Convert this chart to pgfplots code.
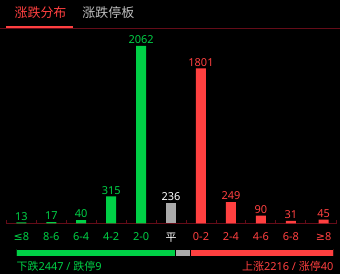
\documentclass[border=0pt]{standalone}
\usepackage{pgfplots}
\pgfplotsset{compat=1.18}
\usepackage{fontspec}
\setmainfont{Noto Sans}
\newfontfamily\cjk{Noto Sans CJK SC}
\newfontfamily\symfont{DejaVu Sans}
\definecolor{upred}{RGB}{255,64,64}
\definecolor{downgreen}{RGB}{0,208,70}
\definecolor{flatgrey}{RGB}{170,170,170}
\definecolor{rulered}{RGB}{100,12,24}
\definecolor{tabgrey}{RGB}{190,190,190}

\begin{document}
\begin{tikzpicture}
\fill[black] (0pt,0pt) rectangle (340pt,275pt);

% tab header
\node[anchor=base west, inner sep=0, text=upred, font=\cjk\fontsize{13}{13}\selectfont] at (14pt,257pt) {涨跌分布};
\node[anchor=base west, inner sep=0, text=tabgrey, font=\cjk\fontsize{13}{13}\selectfont] at (82pt,257pt) {涨跌停板};
\fill[upred] (6pt,247.3pt) rectangle (73pt,249.3pt);
\draw[rulered, line width=0.8pt] (0pt,246.5pt) -- (340pt,246.5pt);

% distribution of price changes
\begin{axis}[
  at={(6pt,51pt)}, anchor=south west,
  scale only axis, width=331pt, height=194pt,
  xmin=-0.5, xmax=10.53, ymin=0, ymax=2247,
  axis x line=bottom, axis y line=none,
  x axis line style={rulered, -, line width=0.8pt},
  xtick={0,1,2,3,4,5,6,7,8,9,10.1},
  xticklabels={
    \textcolor{downgreen}{{\symfont ≤}8},
    \textcolor{downgreen}{8-6},
    \textcolor{downgreen}{6-4},
    \textcolor{downgreen}{4-2},
    \textcolor{downgreen}{2-0},
    \textcolor{white}{\cjk 平},
    \textcolor{upred}{0-2},
    \textcolor{upred}{2-4},
    \textcolor{upred}{4-6},
    \textcolor{upred}{6-8},
    \textcolor{upred}{{\symfont ≥}8}},
  major tick length=0pt,
  minor xtick={-0.5,0.5,1.5,2.5,3.5,4.5,5.5,6.5,7.5,8.5,9.5,10.53},
  minor tick length=3pt, tick align=inside,
  minor tick style={rulered, line width=0.8pt},
  xticklabel style={font=\fontsize{11}{11}\selectfont, anchor=north, yshift=-6pt},
  ytick=\empty,
  clip=false,
  /pgf/number format/.cd, 1000 sep={}, assume math mode=true, /pgfplots/.cd,
  every node near coord/.append style={font=\fontsize{11}{11}\selectfont, inner sep=2pt},
]
\addplot[ybar, bar width=10pt, bar shift=0pt, fill=downgreen, draw=none,
  nodes near coords, every node near coord/.append style={text=downgreen}]
  coordinates {(0,13) (1,17) (2,40) (3,315) (4,2062)};
\addplot[ybar, bar width=10pt, bar shift=0pt, fill=flatgrey, draw=none,
  nodes near coords, every node near coord/.append style={text=white}]
  coordinates {(5,236)};
\addplot[ybar, bar width=10pt, bar shift=0pt, fill=upred, draw=none,
  nodes near coords, every node near coord/.append style={text=upred}]
  coordinates {(6,1801) (7,249) (8,90) (9,31) (10.1,45)};
\end{axis}

% advance / flat / decline proportion bar
\begin{axis}[
  at={(16pt,18pt)}, anchor=south west,
  scale only axis, width=318pt, height=7pt,
  xmin=0, xmax=4899, ymin=-0.5, ymax=0.5,
  hide axis, xbar stacked, bar width=7pt,
]
\addplot[fill=downgreen, draw=black, line width=0.6pt] coordinates {(2447,0)};
\addplot[fill=flatgrey, draw=black, line width=0.6pt] coordinates {(236,0)};
\addplot[fill=upred, draw=black, line width=0.6pt] coordinates {(2216,0)};
\end{axis}

\node[anchor=base west, inner sep=0, text=downgreen, font=\fontsize{11}{11}\selectfont] at (16pt,4pt) {{\cjk 下跌}2447 / {\cjk 跌停}9};
\node[anchor=base east, inner sep=0, text=upred, font=\fontsize{11}{11}\selectfont] at (334pt,4pt) {{\cjk 上涨}2216 / {\cjk 涨停}40};
\end{tikzpicture}
\end{document}
